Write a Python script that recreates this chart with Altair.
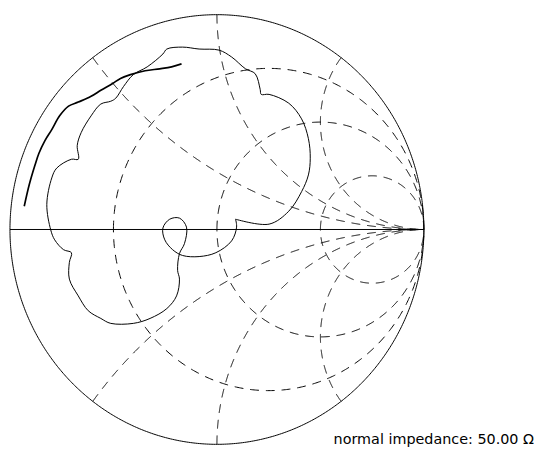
import numpy as np
import pandas as pd
import altair as alt

# Smith chart grid (normalised resistance circles and reactance arcs)
r_circles = [1/3, 1.0, 3.0]
x_arcs = [0.5, 1.0, 2.0, -0.5, -1.0, -2.0]
z0_label = "normal impedance: 50.00 \u03a9"

# reflection coefficient of the measured trace (real / imaginary parts)
main_re = [0.090, 0.252, 0.347, 0.409, 0.442, 0.451, 0.442, 0.409, 0.347, 0.252,
           0.214, 0.209, 0.185, 0.138, 0.071, 0.010, -0.086, -0.166, -0.242, -0.261,
           -0.337, -0.404, -0.451, -0.489, -0.513, -0.561, -0.608, -0.656, -0.675, -0.670,
           -0.703, -0.774, -0.798, -0.822, -0.803, -0.784, -0.741, -0.703, -0.713, -0.713,
           -0.670, -0.622, -0.561, -0.513, -0.404, -0.323, -0.242, -0.195, -0.181, -0.190,
           -0.181, -0.157, -0.147, -0.181, -0.228, -0.261, -0.252, -0.214, -0.166, -0.086,
           -0.005, 0.071, 0.095, 0.090]
main_im = [0.048, 0.025, 0.085, 0.176, 0.254, 0.332, 0.423, 0.515, 0.588, 0.629,
           0.629, 0.652, 0.725, 0.748, 0.803, 0.835, 0.840, 0.849, 0.840, 0.817,
           0.757, 0.721, 0.666, 0.611, 0.597, 0.584, 0.529, 0.451, 0.391, 0.327,
           0.327, 0.286, 0.240, 0.117, -0.002, -0.048, -0.094, -0.108, -0.153, -0.231,
           -0.309, -0.378, -0.414, -0.437, -0.437, -0.414, -0.368, -0.309, -0.231, -0.190,
           -0.112, -0.066, 0.011, 0.053, 0.048, 0.007, -0.048, -0.094, -0.121, -0.126,
           -0.108, -0.053, 0.011, 0.048]

# second (bold) trace
bold_re = [-0.931, -0.907, -0.879, -0.860, -0.831, -0.798, -0.760, -0.717, -0.670, -0.608,
           -0.561, -0.504, -0.466, -0.418, -0.347, -0.276, -0.219, -0.171]
bold_im = [0.108, 0.208, 0.300, 0.355, 0.414, 0.465, 0.529, 0.574, 0.593, 0.620,
           0.648, 0.680, 0.703, 0.721, 0.739, 0.748, 0.757, 0.771]

N = 720
grid_rows = []
for k, r in enumerate(r_circles):
    c, R = r / (r + 1), 1 / (r + 1)
    th = np.linspace(np.pi, -np.pi, N)
    for i, t in enumerate(th):
        grid_rows.append({"u": c + R * np.cos(t), "v": R * np.sin(t), "grp": f"r{k}", "idx": i})
for k, x in enumerate(x_arcs):
    ax = abs(x)
    ge = (1j * ax - 1) / (1j * ax + 1)
    cy, R = 1 / ax, 1 / ax
    t0 = np.arctan2(ge.imag - cy, ge.real - 1)
    t1 = -np.pi / 2
    if t0 > t1:
        t0 -= 2 * np.pi
    th = np.linspace(t0, t1, N)
    sgn = 1 if x > 0 else -1
    for i, t in enumerate(th):
        grid_rows.append({"u": 1 + R * np.cos(t), "v": sgn * (cy + R * np.sin(t)), "grp": f"x{k}", "idx": i})
grid_df = pd.DataFrame(grid_rows)

frame_rows = []
th = np.linspace(np.pi, -np.pi, N)
for i, t in enumerate(th):
    frame_rows.append({"u": np.cos(t), "v": np.sin(t), "grp": "outer", "idx": i})
frame_rows.append({"u": -1.0, "v": 0.0, "grp": "axis", "idx": 0})
frame_rows.append({"u": 1.0, "v": 0.0, "grp": "axis", "idx": 1})
frame_df = pd.DataFrame(frame_rows)

main_df = pd.DataFrame({"u": main_re, "v": main_im, "idx": range(len(main_re))})
bold_df = pd.DataFrame({"u": bold_re, "v": bold_im, "idx": range(len(bold_re))})

xs = alt.Scale(domain=[-1.0, 1.4988], nice=False, zero=False)
ys = alt.Scale(domain=[-1.00458, 0.99542], nice=False, zero=False)
X = alt.X("u:Q", scale=xs, axis=None)
Y = alt.Y("v:Q", scale=ys, axis=None)

grid = alt.Chart(grid_df).mark_line(color="black", strokeWidth=1, strokeDash=[9, 7]).encode(
    x=X, y=Y, detail="grp:N", order="idx:Q")
frame = alt.Chart(frame_df).mark_line(color="black", strokeWidth=1).encode(
    x=X, y=Y, detail="grp:N", order="idx:Q")
main = alt.Chart(main_df).mark_line(color="black", strokeWidth=1, interpolate="catmull-rom").encode(
    x=X, y=Y, order="idx:Q")
bold = alt.Chart(bold_df).mark_line(color="black", strokeWidth=1.7, interpolate="catmull-rom").encode(
    x=X, y=Y, order="idx:Q")
label = alt.Chart(pd.DataFrame({"t": [z0_label]})).mark_text(
    align="right", baseline="alphabetic", font="DejaVu Sans",
    fontSize=14.6, color="black"
).encode(text="t:N", x=alt.value(533), y=alt.value(436))

chart = alt.layer(grid, frame, main, bold, label).properties(
    width=526, height=437, padding=0
).configure_view(stroke=None)

chart.save("out.html", embed_options={"renderer": "svg", "actions": False})
